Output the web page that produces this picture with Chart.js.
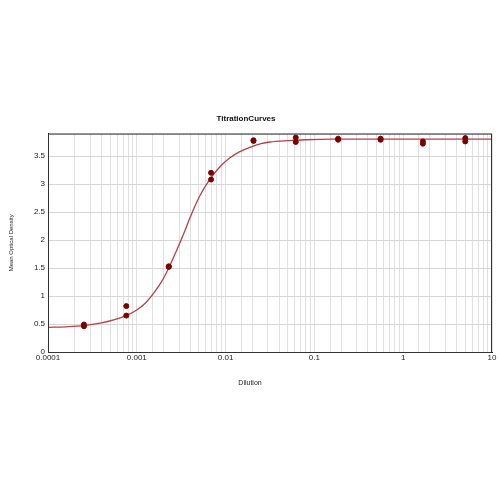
<!DOCTYPE html>
<html>
<head>
<meta charset="utf-8">
<script src="https://cdn.jsdelivr.net/npm/chart.js@4/dist/chart.umd.min.js"></script>
<style>
  html, body { margin: 0; padding: 0; background: #fff; }
  canvas { display: block; }
</style>
</head>
<body>
<canvas id="chart" width="500" height="500"></canvas>
<script>
// measured points (two replicates per dilution)
const dilutions = [0.000254, 0.000762, 0.00229, 0.00686, 0.0206, 0.0617, 0.185, 0.556, 1.667, 5];
const repA = [0.49, 0.82, 1.53, 3.20, 3.77, 3.83, 3.81, 3.81, 3.76, 3.82];
const repB = [0.46, 0.65, 1.52, 3.08, 3.78, 3.75, 3.79, 3.79, 3.72, 3.76];

// fitted curve
const curveX = [0.0001, 0.000158, 0.000251, 0.000398, 0.000562, 0.000759, 0.001, 0.00126, 0.00158, 0.00191,
  0.00229, 0.00275, 0.00339, 0.00398, 0.00501, 0.00676, 0.00891, 0.0112, 0.0141, 0.0191, 0.0251, 0.0316,
  0.0501, 0.0794, 0.158, 1, 10];
const curveY = [0.44, 0.45, 0.47, 0.52, 0.58, 0.65, 0.75, 0.88, 1.07, 1.26,
  1.50, 1.78, 2.12, 2.40, 2.76, 3.10, 3.33, 3.47, 3.57, 3.66, 3.72, 3.75,
  3.775, 3.79, 3.80, 3.80, 3.80];

const xTickLabels = ['0.0001', '0.001', '0.01', '0.1', '1', '10'];
const yTickLabels = ['0', '0.5', '1', '1.5', '2', '2.5', '3', '3.5'];

const points = [];
dilutions.forEach((d, i) => {
  points.push({ x: d, y: repA[i] });
  points.push({ x: d, y: repB[i] });
});
const curve = curveX.map((x, i) => ({ x: x, y: curveY[i] }));

const font = { family: 'Liberation Sans', size: 8 };

// frame round the plot + x axis caption centred on the page
const extras = {
  id: 'extras',
  afterDraw(chart) {
    const a = chart.chartArea;
    const ctx = chart.ctx;
    ctx.save();
    ctx.strokeStyle = '#333';
    ctx.lineWidth = 1;
    ctx.strokeRect(a.left + 0.5, a.top + 0.5, a.right - a.left - 1, a.bottom - a.top);
    ctx.fillStyle = '#222';
    ctx.font = '7px "Liberation Sans"';
    ctx.textAlign = 'center';
    ctx.textBaseline = 'middle';
    ctx.fillText('Dilution', 250, 383);
    ctx.restore();
  }
};

new Chart(document.getElementById('chart').getContext('2d'), {
  type: 'scatter',
  data: {
    datasets: [{
      label: 'Points',
      data: points,
      backgroundColor: '#7a0000',
      borderColor: '#7a0000',
      pointRadius: 2.5,
      pointHoverRadius: 2.5
    }, {
      label: 'Fit',
      data: curve,
      showLine: true,
      borderColor: '#b5404a',
      borderWidth: 1.3,
      pointRadius: 0,
      cubicInterpolationMode: 'monotone'
    }]
  },
  options: {
    responsive: false,
    animation: false,
    layout: { padding: { left: 0, right: 8, top: 0, bottom: 108 } },
    plugins: {
      legend: { display: false },
      tooltip: { enabled: false },
      title: {
        display: true,
        text: 'TitrationCurves',
        color: '#111',
        font: { family: 'Liberation Sans', size: 8, weight: 'bold' },
        padding: { top: 114, bottom: 10 }
      }
    },
    scales: {
      x: {
        type: 'logarithmic',
        min: 0.0001,
        max: 10,
        afterFit(scale) { scale.height = 40; },
        border: { color: '#111' },
        grid: { color: '#e0e0e0', drawTicks: false },
        ticks: {
          autoSkip: false,
          maxRotation: 0,
          padding: 1,
          color: '#222',
          font: font,
          callback(v) {
            const l = Math.log10(v);
            if (Math.abs(l - Math.round(l)) < 1e-6) {
              return xTickLabels[Math.round(l) + 4];
            }
            return '';
          }
        }
      },
      y: {
        min: 0,
        max: 3.9,
        afterFit(scale) { scale.width = 48; },
        title: {
          display: true,
          text: 'Mean Optical Density',
          color: '#222',
          font: { family: 'Liberation Sans', size: 6 },
          padding: { top: 8, bottom: 0 }
        },
        border: { color: '#111' },
        grid: { color: '#d6d6d6', drawTicks: false },
        ticks: {
          stepSize: 0.5,
          padding: 3,
          color: '#222',
          font: font,
          callback(v) {
            const k = Math.round(v * 2);
            return Math.abs(v * 2 - k) < 1e-6 ? yTickLabels[k] : '';
          }
        }
      }
    }
  },
  plugins: [extras]
});
</script>
</body>
</html>
